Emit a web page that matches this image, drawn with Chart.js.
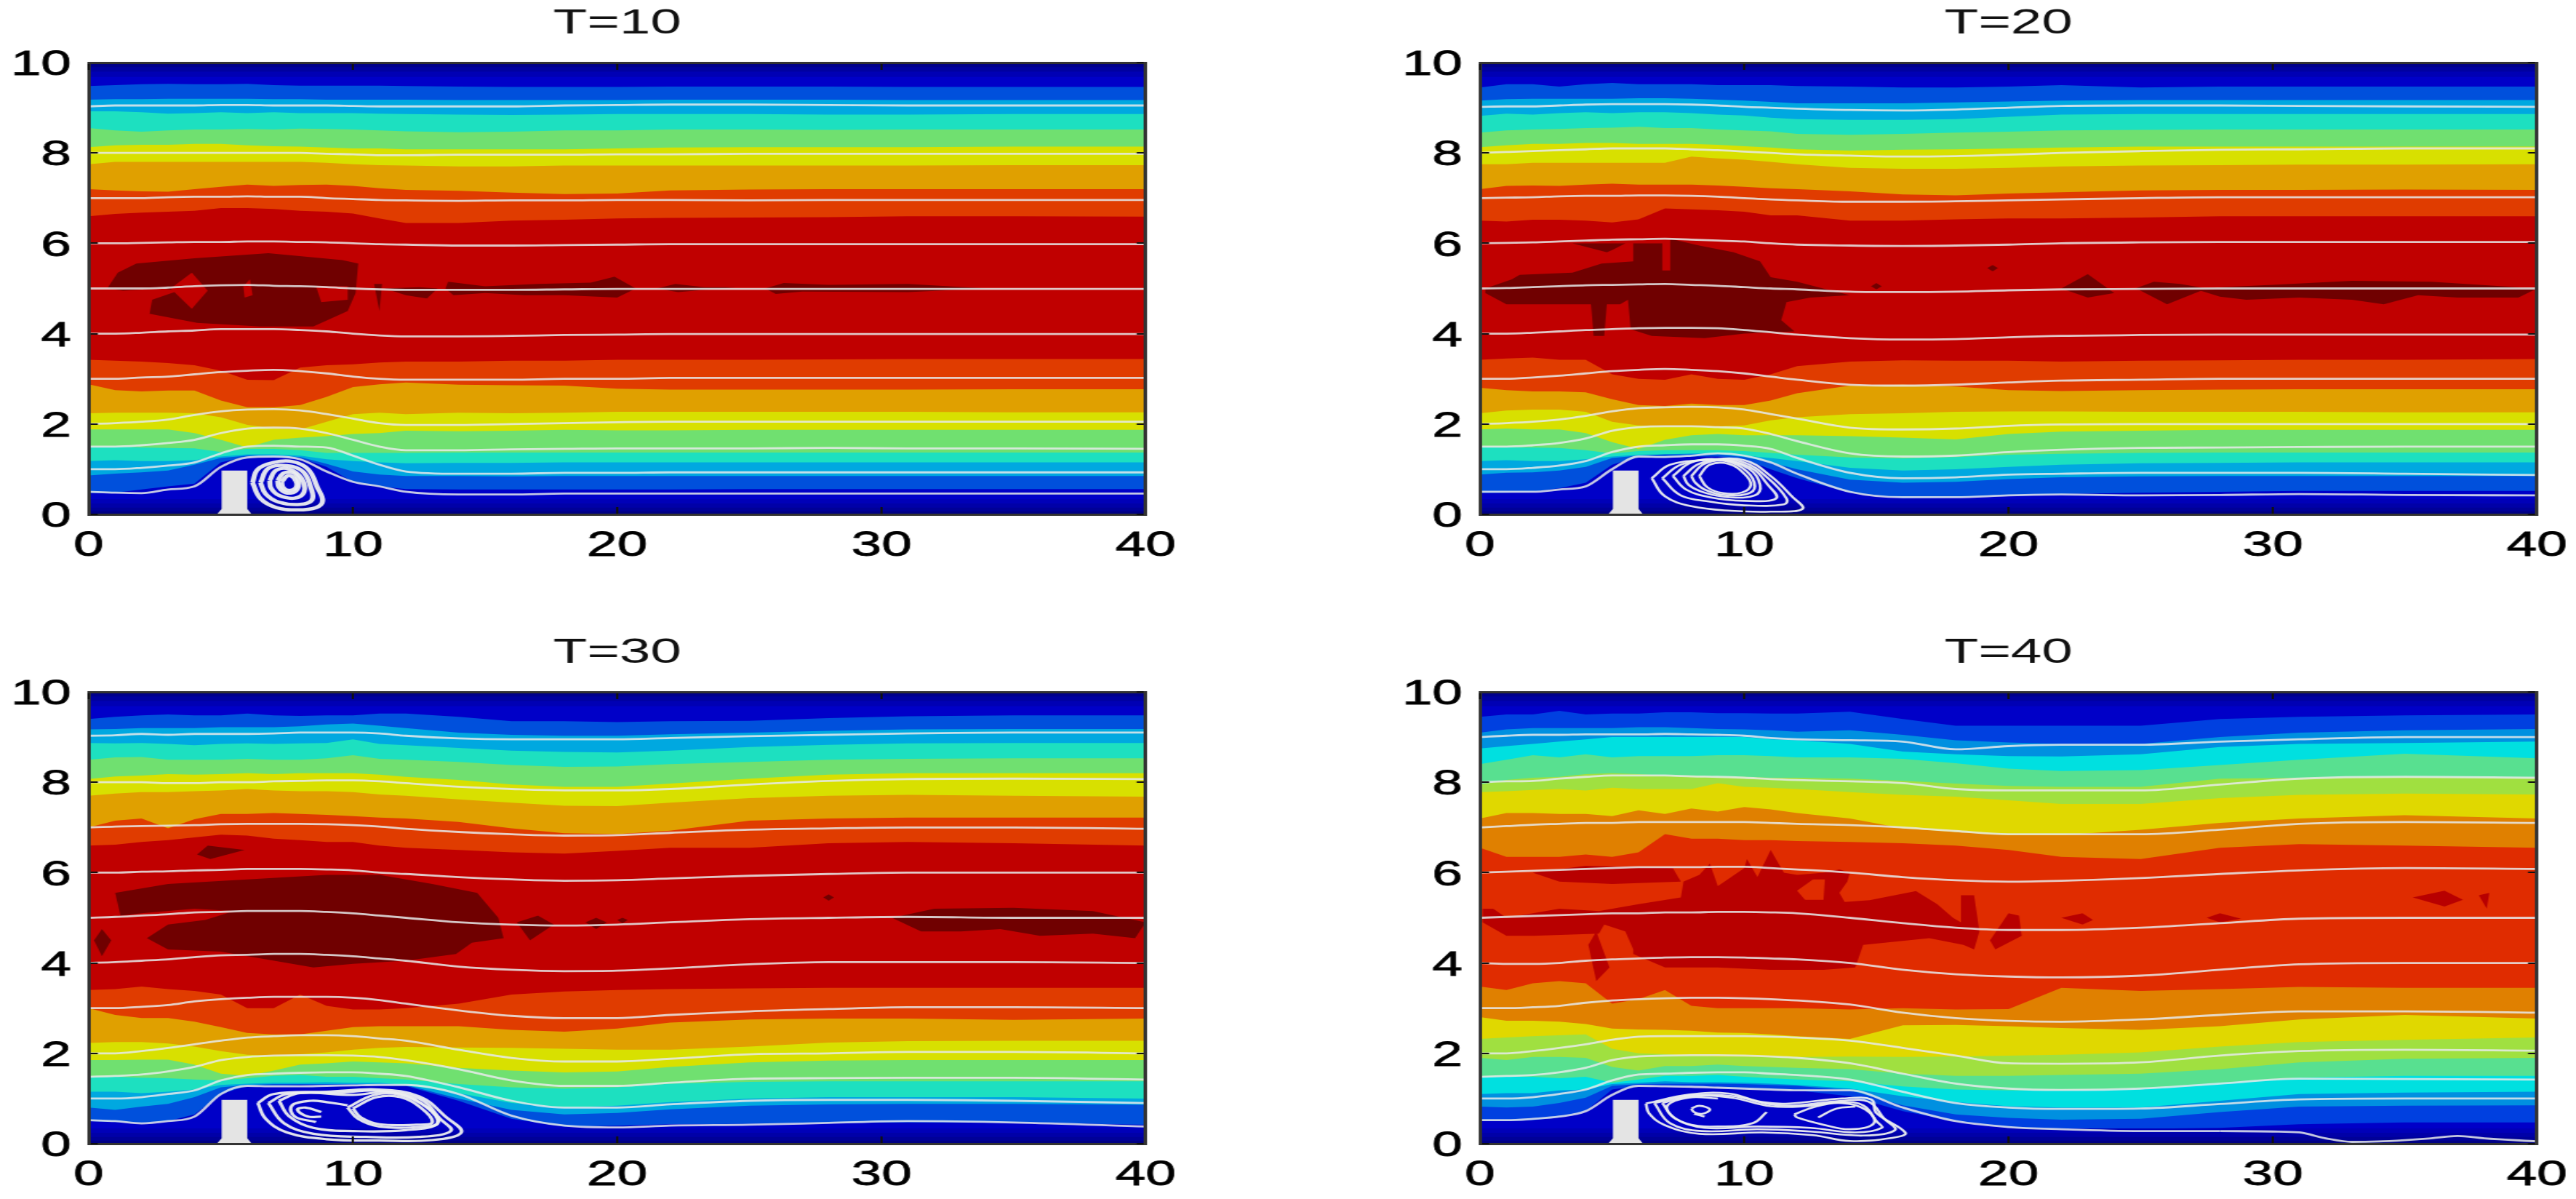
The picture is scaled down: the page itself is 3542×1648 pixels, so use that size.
<!DOCTYPE html>
<html>
<head>
<meta charset="utf-8">
<title>Flow past a cylinder</title>
<script src="https://cdn.jsdelivr.net/npm/chart.js@4"></script>
<style>
    html, body { margin: 0; width: 3542px; height: 1648px; background: #fff; overflow: hidden; }
    canvas { position: absolute; transform-origin: 0 0; transform: scaleX(1.56); }
    #t10 { left: 0; top: 0; }
    #t20 { left: 1913px; top: 0; }
    #t30 { left: 0; top: 865px; }
    #t40 { left: 1913px; top: 865px; }
</style>
</head>
<body>
<canvas id="t10" width="1088" height="780"></canvas>
<canvas id="t20" width="1088" height="780"></canvas>
<canvas id="t30" width="1088" height="780"></canvas>
<canvas id="t40" width="1088" height="780"></canvas>
<script>
const xTickValues = [0, 10, 20, 30, 40];
const yTickValues = [0, 2, 4, 6, 8, 10];
const gridX = [0,1,2,3,4,5,6,7,8,9,10,11,12,14,16,18,20,22,25,28,31,35,40];

// colour of the band under each contour, top of the channel to the bottom
const bandColors = ['#0050dc','#00a8e0','#1de0c0','#70e070','#d8e000','#e0a000','#e03c00','#c00000','#e03c00','#e0a000','#d8e000','#70e070','#1de0c0','#00a8e0','#0050dc','#0000c8'];
const bandColorsT40 = ['#0040e0','#0090e0','#00e0e0','#58e090','#a0e040','#e0d800','#e08000','#e02c00','#e08000','#e0d800','#a0e040','#58e090','#00e0e0','#0090e0','#0040e0','#0000c8'];
const coreColor = '#700000';
const coreColorT40 = '#b80000';
const topWallY = [10, 9.96, 9.9, 9.8, 9.68];
const topWallColors = ['#000078','#00008c','#0000a0','#0000b4','#0000c8'];
const bottomWallY = [0.34, 0.24, 0.15, 0.07];
const bottomWallColors = ['#0000b8','#0000a8','#000098','#000084'];

const cylinderOutline = [[5.03,0.97],[6.0,0.97],[6.0,0.12],[6.17,0],[4.85,0],[5.03,0.12]];

// contour lines over gridX, one row per contour
const contoursT10 = [
    [9.48,9.5,9.52,9.53,9.52,9.52,9.53,9.5,9.49,9.49,9.49,9.49,9.48,9.47,9.46,9.46,9.46,9.47,9.47,9.47,9.46,9.46,9.46],
    [9.18,9.19,9.19,9.2,9.2,9.2,9.2,9.19,9.19,9.18,9.18,9.18,9.18,9.17,9.17,9.17,9.17,9.18,9.18,9.18,9.17,9.17,9.17],
    [8.92,8.92,8.9,8.87,8.88,8.9,8.88,8.9,8.88,8.88,8.88,8.87,8.86,8.85,8.84,8.85,8.86,8.86,8.86,8.85,8.85,8.86,8.86],
    [8.55,8.5,8.47,8.5,8.52,8.52,8.53,8.52,8.54,8.53,8.52,8.5,8.48,8.46,8.47,8.5,8.5,8.52,8.52,8.51,8.52,8.52,8.52],
    [8.13,8.17,8.18,8.18,8.2,8.2,8.17,8.15,8.14,8.12,8.1,8.1,8.08,8.08,8.08,8.08,8.1,8.12,8.13,8.13,8.13,8.14,8.14],
    [7.75,7.8,7.8,7.8,7.8,7.8,7.8,7.8,7.8,7.78,7.75,7.73,7.72,7.7,7.7,7.72,7.72,7.72,7.72,7.72,7.72,7.73,7.73],
    [7.2,7.17,7.15,7.14,7.2,7.25,7.3,7.27,7.29,7.3,7.27,7.22,7.18,7.16,7.12,7.09,7.1,7.17,7.19,7.2,7.2,7.2,7.2],
    [6.6,6.65,6.68,6.7,6.72,6.78,6.78,6.76,6.72,6.7,6.66,6.55,6.45,6.45,6.5,6.52,6.55,6.56,6.57,6.58,6.6,6.6,6.59],
    [3.42,3.4,3.38,3.35,3.3,3.18,2.98,2.97,3.25,3.3,3.32,3.36,3.38,3.38,3.4,3.4,3.42,3.42,3.42,3.43,3.44,3.44,3.44],
    [2.88,2.75,2.72,2.74,2.74,2.52,2.37,2.37,2.42,2.6,2.82,2.88,2.92,2.87,2.86,2.85,2.78,2.76,2.76,2.76,2.76,2.77,2.77],
    [2.24,2.25,2.25,2.25,2.24,2.15,1.98,1.9,1.88,2.05,2.22,2.25,2.22,2.25,2.24,2.25,2.27,2.27,2.27,2.27,2.27,2.26,2.26],
    [1.88,1.88,1.88,1.88,1.8,1.65,1.48,1.65,1.7,1.73,1.78,1.8,1.85,1.84,1.85,1.87,1.86,1.86,1.87,1.87,1.87,1.87,1.87],
    [1.5,1.5,1.48,1.47,1.46,1.38,1.45,1.45,1.42,1.36,1.36,1.36,1.36,1.37,1.37,1.37,1.37,1.37,1.37,1.37,1.37,1.37,1.37],
    [1.18,1.2,1.18,1.18,1.2,1.28,1.33,1.33,1.3,1.22,1.18,1.15,1.13,1.14,1.14,1.15,1.15,1.15,1.15,1.15,1.15,1.15,1.15],
    [0.86,0.9,0.93,0.97,1.1,1.25,1.3,1.3,1.27,1.12,0.95,0.88,0.85,0.85,0.84,0.85,0.85,0.85,0.85,0.85,0.85,0.85,0.85],
    [0.47,0.48,0.55,0.62,0.68,1.15,1.28,1.26,1.25,1.05,0.72,0.62,0.56,0.55,0.55,0.55,0.55,0.55,0.56,0.56,0.56,0.56,0.56]
];
const contoursT20 = [
    [9.45,9.52,9.52,9.47,9.52,9.55,9.52,9.52,9.52,9.5,9.5,9.5,9.48,9.47,9.45,9.45,9.47,9.5,9.45,9.47,9.47,9.47,9.47],
    [9.16,9.19,9.2,9.2,9.2,9.2,9.21,9.21,9.2,9.18,9.16,9.13,9.1,9.1,9.1,9.12,9.14,9.16,9.17,9.17,9.17,9.17,9.17],
    [8.82,8.87,8.85,8.88,8.9,8.88,8.9,8.9,8.88,8.85,8.83,8.78,8.75,8.73,8.73,8.75,8.8,8.85,8.86,8.86,8.86,8.86,8.86],
    [8.45,8.5,8.52,8.53,8.55,8.56,8.58,8.55,8.55,8.52,8.5,8.48,8.42,8.4,8.42,8.45,8.47,8.5,8.51,8.52,8.52,8.52,8.52],
    [8.13,8.17,8.2,8.2,8.22,8.22,8.2,8.2,8.2,8.18,8.15,8.12,8.08,8.05,8.07,8.08,8.1,8.12,8.14,8.14,8.14,8.14,8.14],
    [7.75,7.75,7.78,7.78,7.78,7.78,7.78,7.78,7.92,7.88,7.85,7.8,7.75,7.67,7.65,7.65,7.67,7.7,7.72,7.73,7.74,7.74,7.75],
    [7.2,7.27,7.28,7.27,7.3,7.32,7.3,7.3,7.3,7.28,7.25,7.22,7.2,7.15,7.08,7.06,7.1,7.13,7.17,7.18,7.18,7.19,7.18],
    [6.5,6.48,6.52,6.52,6.5,6.46,6.53,6.77,6.75,6.73,6.7,6.62,6.62,6.5,6.5,6.53,6.55,6.55,6.57,6.6,6.6,6.6,6.6],
    [3.42,3.45,3.47,3.42,3.42,3.1,3.0,2.98,3.1,3.0,2.98,3.1,3.28,3.38,3.41,3.4,3.4,3.38,3.4,3.41,3.42,3.42,3.44],
    [2.8,2.75,2.72,2.72,2.7,2.55,2.42,2.4,2.45,2.42,2.42,2.52,2.68,2.85,2.87,2.83,2.75,2.73,2.75,2.76,2.77,2.77,2.77],
    [2.24,2.3,2.32,2.32,2.27,2.05,1.97,1.95,1.95,1.95,1.97,2.08,2.15,2.22,2.24,2.27,2.28,2.28,2.27,2.27,2.27,2.26,2.26],
    [1.88,1.9,1.88,1.88,1.8,1.6,1.45,1.65,1.75,1.78,1.75,1.75,1.75,1.73,1.7,1.66,1.78,1.83,1.85,1.87,1.87,1.87,1.87],
    [1.5,1.48,1.48,1.47,1.42,1.35,1.4,1.42,1.42,1.42,1.4,1.36,1.32,1.26,1.24,1.27,1.32,1.34,1.36,1.37,1.37,1.37,1.37],
    [1.18,1.2,1.18,1.18,1.22,1.28,1.32,1.33,1.35,1.35,1.3,1.25,1.18,1.03,0.97,1.0,1.05,1.1,1.13,1.14,1.15,1.15,1.15],
    [0.88,0.92,0.93,0.97,1.05,1.25,1.3,1.33,1.33,1.33,1.27,1.15,1.0,0.77,0.7,0.72,0.78,0.82,0.84,0.85,0.85,0.85,0.85],
    [0.47,0.48,0.5,0.58,0.7,1.1,1.28,1.25,1.28,1.28,1.22,1.0,0.8,0.48,0.36,0.37,0.42,0.45,0.48,0.5,0.52,0.52,0.52]
];
const contoursT30 = [
    [9.4,9.45,9.48,9.5,9.48,9.48,9.52,9.48,9.47,9.48,9.48,9.52,9.52,9.45,9.35,9.35,9.33,9.35,9.36,9.42,9.46,9.48,9.48],
    [9.17,9.18,9.2,9.2,9.2,9.22,9.22,9.22,9.24,9.28,9.3,9.25,9.2,9.1,9.05,9.03,9.03,9.06,9.1,9.14,9.17,9.18,9.18],
    [8.87,8.86,8.87,8.85,8.82,8.85,8.86,8.85,8.86,8.87,8.95,8.85,8.82,8.76,8.7,8.67,8.66,8.7,8.78,8.83,8.86,8.87,8.87],
    [8.5,8.55,8.56,8.5,8.5,8.5,8.52,8.5,8.5,8.53,8.6,8.52,8.5,8.45,8.38,8.34,8.35,8.4,8.45,8.5,8.52,8.53,8.53],
    [8.07,8.13,8.15,8.18,8.17,8.18,8.2,8.18,8.2,8.2,8.2,8.17,8.12,8.05,7.95,7.9,7.9,7.97,8.08,8.17,8.2,8.2,8.2],
    [7.7,7.75,7.78,7.78,7.8,7.82,7.85,7.82,7.8,7.8,7.78,7.73,7.7,7.62,7.55,7.48,7.47,7.55,7.65,7.7,7.72,7.7,7.68],
    [7.0,7.15,7.2,6.98,7.18,7.3,7.3,7.32,7.3,7.28,7.25,7.22,7.2,7.12,6.98,6.87,6.85,6.93,7.15,7.2,7.22,7.22,7.22],
    [6.6,6.62,6.68,6.72,6.78,6.84,6.82,6.75,6.72,6.68,6.68,6.6,6.55,6.5,6.45,6.42,6.48,6.55,6.55,6.65,6.68,6.65,6.6],
    [3.4,3.42,3.48,3.42,3.38,3.3,3.0,3.0,3.3,3.05,2.97,2.97,3.0,3.1,3.3,3.37,3.4,3.42,3.44,3.45,3.45,3.45,3.45],
    [3.0,2.85,2.78,2.78,2.7,2.58,2.45,2.42,2.42,2.5,2.58,2.6,2.6,2.6,2.52,2.48,2.55,2.68,2.75,2.77,2.77,2.74,2.77],
    [2.23,2.25,2.25,2.22,2.15,2.05,1.97,1.95,1.98,2.02,2.08,2.12,2.14,2.13,2.12,2.1,2.08,2.08,2.15,2.24,2.27,2.28,2.28],
    [1.85,1.85,1.86,1.86,1.75,1.55,1.5,1.62,1.75,1.78,1.82,1.8,1.78,1.68,1.62,1.58,1.6,1.7,1.8,1.84,1.85,1.85,1.85],
    [1.48,1.48,1.46,1.45,1.42,1.4,1.45,1.5,1.52,1.48,1.48,1.45,1.42,1.32,1.25,1.22,1.25,1.33,1.37,1.38,1.38,1.38,1.38],
    [1.15,1.15,1.12,1.15,1.2,1.3,1.33,1.35,1.35,1.36,1.35,1.35,1.3,1.12,0.9,0.8,0.84,0.92,1.0,1.03,1.03,1.03,1.0],
    [0.8,0.75,0.82,0.88,1.03,1.25,1.3,1.32,1.32,1.32,1.32,1.32,1.3,1.0,0.75,0.65,0.68,0.76,0.84,0.87,0.88,0.88,0.86],
    [0.5,0.48,0.46,0.5,0.65,1.1,1.28,1.28,1.3,1.3,1.3,1.3,1.28,0.95,0.55,0.38,0.4,0.43,0.44,0.46,0.47,0.47,0.42]
];
const contoursT40 = [
    [9.45,9.5,9.5,9.58,9.5,9.52,9.52,9.55,9.55,9.53,9.53,9.52,9.52,9.56,9.4,9.25,9.25,9.25,9.25,9.4,9.45,9.48,9.5],
    [9.1,9.17,9.2,9.2,9.2,9.2,9.22,9.22,9.2,9.18,9.17,9.15,9.12,9.15,9.05,8.93,8.88,8.85,8.85,9.0,9.1,9.15,9.18],
    [8.75,8.8,8.85,8.9,8.95,9.0,9.0,9.0,9.0,9.0,9.0,8.95,8.93,8.85,8.68,8.62,8.58,8.57,8.62,8.78,8.85,8.87,8.9],
    [8.4,8.5,8.6,8.55,8.62,8.55,8.58,8.58,8.58,8.6,8.6,8.58,8.55,8.55,8.52,8.42,8.3,8.25,8.27,8.38,8.5,8.63,8.53],
    [7.95,8.05,8.1,8.12,8.18,8.2,8.18,8.15,8.15,8.12,8.12,8.1,8.1,8.08,8.03,7.97,7.92,7.9,7.9,8.08,8.1,8.12,8.1],
    [7.78,7.8,7.83,7.85,7.82,7.88,7.85,7.85,7.85,7.98,7.9,7.88,7.85,7.78,7.72,7.68,7.6,7.52,7.52,7.65,7.72,7.75,7.73],
    [7.2,7.32,7.32,7.3,7.3,7.25,7.38,7.3,7.42,7.35,7.45,7.4,7.32,7.2,6.98,6.9,6.83,6.83,6.95,7.1,7.2,7.27,7.2],
    [6.55,6.35,6.35,6.35,6.4,6.35,6.45,6.85,6.75,6.75,6.72,6.72,6.7,6.68,6.65,6.6,6.5,6.35,6.3,6.55,6.63,6.6,6.55],
    [3.48,3.4,3.55,3.6,3.55,3.1,3.2,3.4,3.05,3.0,3.0,3.0,3.0,2.97,3.0,2.97,2.98,3.45,3.38,3.42,3.47,3.45,3.45],
    [2.8,2.72,2.72,2.7,2.65,2.55,2.53,2.52,2.5,2.46,2.45,2.42,2.38,2.32,2.62,2.63,2.6,2.56,2.52,2.6,2.75,2.85,2.77],
    [2.32,2.35,2.38,2.4,2.42,2.1,2.0,1.98,1.95,1.93,1.93,1.92,1.92,1.93,1.92,1.93,1.95,1.97,2.02,2.15,2.25,2.3,2.35],
    [1.9,1.85,1.92,1.92,1.9,1.7,1.62,1.72,1.72,1.75,1.72,1.7,1.68,1.65,1.55,1.5,1.5,1.52,1.55,1.65,1.8,1.88,1.9],
    [1.48,1.48,1.48,1.45,1.48,1.35,1.42,1.5,1.5,1.52,1.48,1.45,1.42,1.38,1.27,1.2,1.18,1.18,1.22,1.35,1.46,1.5,1.5],
    [1.1,1.12,1.12,1.18,1.2,1.32,1.35,1.38,1.36,1.36,1.35,1.33,1.3,1.22,1.05,0.92,0.83,0.8,0.8,0.95,1.1,1.13,1.15],
    [0.82,0.8,0.82,0.9,1.02,1.28,1.32,1.33,1.33,1.33,1.32,1.3,1.28,1.18,0.85,0.65,0.57,0.53,0.55,0.7,0.82,0.84,0.85],
    [0.5,0.5,0.52,0.58,0.72,1.2,1.28,1.27,1.26,1.24,1.22,1.2,1.18,1.05,0.72,0.5,0.36,0.33,0.33,0.35,0.43,0.47,0.47]
];

// streamlines over gridX
const streamsT10 = [
    [9.03,9.05,9.05,9.05,9.05,9.06,9.06,9.05,9.05,9.05,9.04,9.03,9.03,9.03,9.03,9.05,9.06,9.07,9.07,9.06,9.05,9.05,9.05],
    [8,8,8,8,8,8,8,8,8,7.98,7.97,7.95,7.95,7.96,7.96,7.96,7.97,7.97,7.98,7.98,7.98,7.98,7.98],
    [7,7,7,7.02,7.03,7.03,7.04,7.03,7.03,7,6.98,6.96,6.95,6.94,6.95,6.95,6.96,6.96,6.95,6.96,6.96,6.96,6.96],
    [6,6,6.01,6.02,6.03,6.03,6.04,6.04,6.03,6.02,6,5.98,5.97,5.95,5.95,5.96,5.97,5.98,5.98,5.98,5.98,5.98,5.98],
    [5,5,5,5.02,5.05,5.07,5.08,5.06,5.05,5.03,5,4.98,4.97,4.97,4.97,4.98,4.99,4.99,4.99,4.99,4.99,4.99,4.99],
    [4,4,4.02,4.05,4.07,4.1,4.1,4.1,4.08,4.05,4,3.96,3.94,3.94,3.95,3.97,3.98,3.99,3.99,3.99,3.99,3.99,3.99],
    [3,3,3.03,3.05,3.1,3.15,3.18,3.2,3.17,3.12,3.05,3,2.98,2.98,2.98,3,3,3.02,3.02,3.02,3.02,3.02,3.02],
    [2,2.02,2.05,2.1,2.2,2.28,2.32,2.33,2.3,2.22,2.12,2.02,1.98,1.98,2,2.02,2.04,2.05,2.05,2.05,2.05,2.05,2.05],
    [1.5,1.5,1.53,1.58,1.65,1.8,1.9,1.92,1.9,1.8,1.65,1.5,1.42,1.42,1.44,1.45,1.46,1.46,1.46,1.47,1.46,1.46,1.45],
    [1,1,1.03,1.08,1.15,1.35,1.5,1.52,1.5,1.48,1.3,1.1,0.95,0.9,0.9,0.92,0.92,0.93,0.93,0.93,0.93,0.93,0.93],
    [0.5,0.48,0.47,0.55,0.62,1.05,1.26,1.28,1.22,0.95,0.72,0.62,0.5,0.44,0.44,0.46,0.46,0.46,0.46,0.46,0.46,0.46,0.46]
];
const streamsT20 = [
    [9.02,9.03,9.03,9.05,9.07,9.08,9.08,9.08,9.07,9.05,9.02,9,8.98,8.95,8.94,8.96,9,9.04,9.05,9.05,9.04,9.03,9.02],
    [8,8.02,8.04,8.06,8.08,8.1,8.1,8.1,8.08,8.06,8.03,8,7.97,7.94,7.92,7.93,7.96,8,8.04,8.07,8.08,8.1,8.1],
    [7,7.01,7.02,7.04,7.05,7.05,7.06,7.06,7.05,7.03,7,6.97,6.95,6.92,6.92,6.93,6.95,6.97,7,7.02,7.02,7.02,7.02],
    [6,6.01,6.02,6.04,6.06,6.08,6.09,6.1,6.08,6.06,6.04,6,5.97,5.95,5.94,5.95,5.97,6,6.02,6.03,6.03,6.03,6.03],
    [5,5.01,5.03,5.05,5.07,5.08,5.09,5.1,5.08,5.06,5.03,5,4.98,4.93,4.92,4.93,4.96,4.98,4.99,5,5,5,5],
    [4,4,4.02,4.05,4.08,4.1,4.12,4.13,4.13,4.12,4.08,4.03,3.98,3.9,3.87,3.88,3.92,3.95,3.97,3.98,3.98,3.98,3.98],
    [3,3,3.03,3.07,3.12,3.17,3.2,3.22,3.2,3.17,3.12,3.05,2.98,2.87,2.85,2.87,2.92,2.96,2.98,3,3,3,3],
    [2,2.02,2.05,2.1,2.18,2.28,2.35,2.37,2.38,2.37,2.32,2.22,2.12,1.92,1.88,1.9,1.96,1.99,2,2,2,2,2],
    [1.5,1.5,1.53,1.58,1.68,1.85,1.93,1.95,1.95,1.93,1.9,1.78,1.62,1.35,1.28,1.3,1.38,1.43,1.47,1.48,1.49,1.5,1.5],
    [1,1,1.03,1.08,1.18,1.38,1.5,1.53,1.55,1.55,1.52,1.45,1.25,0.92,0.8,0.82,0.88,0.9,0.92,0.92,0.92,0.9,0.87],
    [0.5,0.5,0.5,0.55,0.62,1,1.28,1.27,1.3,1.35,1.3,1.15,0.9,0.5,0.38,0.38,0.42,0.44,0.42,0.43,0.45,0.43,0.42]
];
const streamsT30 = [
    [9.03,9.04,9.07,9.05,9.07,9.07,9.07,9.08,9.1,9.1,9.1,9.08,9.03,8.97,8.95,8.95,8.95,8.98,9.02,9.05,9.08,9.1,9.1],
    [8,8,8,7.98,7.98,8,8,8.02,8.03,8.04,8.04,8.02,7.98,7.9,7.85,7.82,7.82,7.85,7.95,8.03,8.07,8.08,8.07],
    [7,7.02,7.03,7.04,7.05,7.07,7.08,7.08,7.08,7.07,7.05,7.02,6.97,6.9,6.85,6.82,6.83,6.88,6.95,6.98,7,7,6.97],
    [6,6,6.02,6.03,6.05,6.06,6.08,6.08,6.08,6.07,6.05,6,5.97,5.9,5.85,5.82,5.83,5.87,5.93,5.97,6,6,6],
    [5,5.02,5.05,5.08,5.12,5.13,5.15,5.15,5.15,5.13,5.1,5.05,5,4.9,4.85,4.83,4.85,4.9,4.97,5,5.02,5,5],
    [4,4.02,4.05,4.08,4.13,4.17,4.18,4.2,4.2,4.18,4.15,4.1,4.05,3.92,3.85,3.82,3.83,3.88,3.97,4.02,4.02,4.02,4],
    [3,3,3.03,3.07,3.15,3.2,3.23,3.25,3.25,3.25,3.23,3.18,3.1,2.95,2.83,2.78,2.78,2.85,2.93,2.98,3.02,3.02,3],
    [2,2,2.05,2.12,2.2,2.28,2.35,2.38,2.4,2.4,2.38,2.33,2.28,2.08,1.9,1.82,1.82,1.88,1.98,2,2.03,2.03,2],
    [1.48,1.5,1.53,1.6,1.7,1.85,1.92,1.95,1.96,1.96,1.95,1.92,1.85,1.65,1.4,1.28,1.28,1.35,1.44,1.45,1.46,1.46,1.42],
    [1,1,1.03,1.1,1.18,1.4,1.52,1.55,1.57,1.58,1.58,1.55,1.5,1.25,0.95,0.8,0.8,0.87,0.95,0.97,0.97,0.95,0.9],
    [0.52,0.5,0.45,0.5,0.6,1.1,1.28,1.27,1.27,1.28,1.29,1.3,1.3,1.1,0.62,0.4,0.36,0.4,0.42,0.46,0.5,0.47,0.38]
];
const streamsT40 = [
    [9,9.03,9.05,9.05,9.06,9.06,9.06,9.07,9.06,9.05,9.03,8.98,8.95,8.93,8.9,8.73,8.8,8.83,8.83,8.9,8.95,9,9],
    [8,8.02,8.03,8.08,8.12,8.15,8.15,8.15,8.13,8.12,8.1,8.07,8.05,8.02,7.98,7.85,7.82,7.82,7.82,7.95,8.08,8.12,8.1],
    [7,7.03,7.06,7.08,7.1,7.1,7.12,7.12,7.12,7.12,7.12,7.1,7.08,7.05,7,6.92,6.85,6.85,6.85,6.95,7.08,7.12,7.1],
    [6,6.02,6.04,6.06,6.08,6.1,6.12,6.12,6.12,6.13,6.13,6.1,6.07,6,5.9,5.83,5.8,5.82,5.88,5.97,6.05,6.1,6.08],
    [5,5.02,5.04,5.06,5.08,5.1,5.1,5.12,5.12,5.13,5.13,5.12,5.1,5,4.88,4.78,4.73,4.73,4.78,4.88,4.98,5,5],
    [4,3.98,3.98,4,4.05,4.08,4.1,4.12,4.13,4.13,4.12,4.1,4.08,4,3.85,3.75,3.7,3.68,3.72,3.85,3.97,4,4],
    [3,3,3.02,3.05,3.12,3.17,3.2,3.22,3.23,3.23,3.22,3.2,3.17,3.08,2.9,2.78,2.72,2.7,2.75,2.85,2.93,2.93,2.9],
    [2,2,2.05,2.12,2.2,2.3,2.37,2.38,2.38,2.38,2.38,2.37,2.35,2.28,2.12,1.95,1.78,1.77,1.8,1.95,2.05,2.08,2.06],
    [1.48,1.5,1.52,1.58,1.68,1.85,1.93,1.95,1.96,1.96,1.95,1.93,1.9,1.78,1.55,1.33,1.22,1.19,1.22,1.33,1.44,1.43,1.42],
    [1,1,1.03,1.1,1.2,1.4,1.53,1.55,1.57,1.58,1.58,1.55,1.52,1.42,1.15,0.9,0.8,0.77,0.78,0.88,0.98,1,1],
    [0.52,0.52,0.55,0.6,0.72,1.08,1.28,1.27,1.26,1.24,1.22,1.2,1.18,1.18,0.8,0.5,0.37,0.32,0.28,0.28,null,null,null]
];
const wakeT40X = [28,30,31,32,33,34,35,36,37,38,40];
const wakeT40Y = [0.28,0.27,0.25,0.12,0.04,0.05,0.08,0.12,0.17,0.12,0.05];

// dark core patches, as outlines
const coresT10 = [
    [[0.7,5],[1.1,5.35],[1.8,5.55],[4,5.67],[6.8,5.78],[9.6,5.63],[10.2,5.55],[10.1,4.9],[9.8,4.5],[8.5,4.16],[6.5,4.16],[4.1,4.24],[2.3,4.44],[2.4,4.75],[3.4,4.95],[2.8,5],[1.3,4.95]],
    [[10.8,5.1],[11,4.5],[11.1,5.1]],
    [[11.2,5],[12,4.85],[12.8,4.78],[13.2,5],[12.5,5.03]],
    [[13.5,5],[13.6,5.15],[15,5.05],[17,5.1],[19,5.13],[19.9,5.26],[20.7,5],[20,4.8],[18,4.85],[16.5,4.85],[15,4.9],[13.8,4.85]],
    [[21.5,5],[22.2,5.1],[23.3,5.03],[24.5,5.03],[22.3,4.92]],
    [[25.6,5],[26.3,5.12],[28,5.08],[31,5.1],[34,5],[31,4.92],[27,4.93],[26,4.88]]
];
const holesT10 = [
    [[3.1,5],[3.9,5.35],[4.5,4.95],[3.9,4.55]],
    [[5.85,5.05],[6.1,5.2],[6.2,4.85],[5.9,4.8]],
    [[8.6,5.05],[9.8,5.05],[9.8,4.75],[8.8,4.7]]
];
const coresT20 = [
    [[0.2,5],[1.2,5.2],[1.5,5.3],[3.5,5.35],[4.6,5.55],[5.8,5.6],[5.8,6],[6.9,6],[6.9,5.4],[7.2,5.4],[7.2,6.1],[8.3,5.95],[9.6,5.8],[10.6,5.6],[11,5.25],[12,5.15],[13.3,4.95],[14,4.85],[12.5,4.8],[11.6,4.7],[11.4,4.3],[11.9,4.05],[10,4],[8.5,3.9],[6.5,3.95],[5.7,4.1],[5.6,4.75],[5.3,4.65],[4.8,4.65],[4.7,3.95],[4.3,3.95],[4.2,4.65],[2,4.65],[1,4.65],[0.2,4.9]],
    [[3.5,6],[4.8,5.8],[5,5.85],[5.5,6]],
    [[14.8,5.05],[15,5.12],[15.2,5.05],[15,4.98]],
    [[19.2,5.45],[19.4,5.52],[19.6,5.45],[19.4,5.38]],
    [[22,5],[23,5.32],[24,4.9],[23,4.8]],
    [[24.8,5],[25.5,5.15],[26.5,5.1],[27.5,5],[26,4.65],[25,4.95]],
    [[27,5],[30,5.08],[33,5.17],[36,5.15],[40,5],[39.3,4.8],[37,4.8],[35.5,4.85],[34.2,4.65],[33,4.75],[31,4.8],[29,4.75],[28,4.82]]
];
const coresT30 = [
    [[1,5.55],[3,5.75],[6,5.85],[9,5.95],[11,5.95],[13,5.75],[14.7,5.55],[15.5,5],[15.7,4.55],[14.5,4.45],[13.9,4.2],[12,4.05],[10,3.98],[8.5,3.9],[7.5,4],[5,4.25],[3,4.3],[2.2,4.55],[3,4.85],[4.4,4.95],[5.5,5.15],[4,5.2],[2,5.1],[1.2,5.05]],
    [[0.2,4.5],[0.5,4.75],[0.85,4.5],[0.5,4.15]],
    [[4.1,6.4],[4.5,6.6],[5.9,6.5],[4.6,6.3]],
    [[16.2,4.9],[17,5.05],[17.6,4.85],[16.7,4.5]],
    [[18.8,4.9],[19.2,5],[19.6,4.9],[19.2,4.75]],
    [[20,4.95],[20.2,5],[20.4,4.95],[20.2,4.88]],
    [[27.8,5.45],[28,5.52],[28.2,5.45],[28,5.38]],
    [[30.4,5],[32,5.2],[35,5.22],[38,5.15],[40,4.9],[39.6,4.55],[38,4.65],[36,4.6],[34.5,4.75],[33,4.7],[31.5,4.7]]
];
const coresT40 = [
    [[0.1,5.2],[0.5,5.2],[1,5],[3,5.2],[4.5,5.15],[6,5.3],[7.6,5.45],[7.7,5.8],[8.3,5.95],[8.7,6.2],[9,5.7],[10,6.1],[10.1,6.3],[10.5,5.9],[11,6.5],[11.5,6],[12,5.95],[13,6],[13.6,6.07],[14,6],[13.9,5.8],[13.6,5.55],[13.8,5.35],[14.75,5.39],[16.5,5.59],[17.3,5.3],[17.9,5],[18.2,4.9],[18.2,5.5],[18.7,5.5],[18.9,4.7],[18.7,4.3],[18.3,4.4],[17,4.55],[14.5,4.4],[14.2,3.9],[13,3.85],[11,3.85],[9,3.9],[7,3.9],[5.8,4.2],[5.8,4.3],[5.5,4.7],[4.7,4.85],[4.5,4.65],[2,4.6],[1,4.6],[0.1,4.9]],
    [[2,6],[4,6.15],[7.3,6.1],[7.6,5.8],[5,5.75],[3,5.8]],
    [[4.1,4.4],[4.4,3.6],[4.9,3.9],[4.4,4.7]],
    [[19.3,4.5],[20,5.1],[20.4,5.05],[20.5,4.6],[19.5,4.3]],
    [[22,5],[22.8,5.1],[23.2,4.95],[22.8,4.85]],
    [[27.5,5],[28,5.1],[28.8,4.98],[28,4.9]],
    [[35.3,5.45],[36.5,5.6],[37.2,5.4],[36.5,5.25]],
    [[37.8,5.5],[38.2,5.55],[38.1,5.2]]
];
const holesT40 = [
    [[12,5.6],[12.6,5.85],[13.05,5.85],[13,5.4],[12.3,5.4]]
];

// recirculation behind the cylinder
const loopsT10 = [
    [[6.2,0.7],[6.4,1.0],[7.0,1.15],[7.7,1.17],[8.3,1.0],[8.65,0.6],[8.85,0.3],[8.6,0.15],[7.9,0.1],[7.1,0.15],[6.5,0.35]],
    [[6.5,0.7],[6.8,1.02],[7.5,1.08],[8.1,0.95],[8.4,0.6],[8.45,0.32],[8,0.22],[7.2,0.27],[6.7,0.45]],
    [[6.85,0.75],[7.1,0.98],[7.6,1.0],[8.05,0.8],[8.15,0.5],[7.8,0.36],[7.2,0.42],[6.9,0.58]],
    [[7.15,0.75],[7.4,0.92],[7.8,0.9],[7.95,0.68],[7.8,0.5],[7.45,0.48],[7.2,0.6]],
    [[7.3,0.72],[7.55,0.86],[7.8,0.78],[7.85,0.6],[7.55,0.53],[7.35,0.6]]
];
const loopsT20 = [
    [[6.5,0.8],[7.2,1.1],[8.5,1.2],[10,1.2],[11,0.85],[11.8,0.4],[12.2,0.12],[11,0.06],[9.5,0.08],[8,0.18],[7,0.4]],
    [[6.9,0.8],[7.6,1.1],[8.8,1.22],[10,1.15],[10.9,0.8],[11.6,0.35],[11.5,0.22],[10,0.2],[8.7,0.28],[7.6,0.42]],
    [[7.3,0.85],[8,1.15],[9,1.22],[10.2,1.05],[10.9,0.65],[11.2,0.35],[10,0.3],[8.7,0.38],[7.8,0.55]],
    [[7.7,0.85],[8.3,1.12],[9.2,1.2],[10.2,1],[10.6,0.65],[10.4,0.42],[9.4,0.38],[8.5,0.48],[7.9,0.65]],
    [[8,0.85],[8.5,1.12],[9.3,1.18],[10.1,0.95],[10.4,0.62],[10.1,0.45],[9.2,0.43],[8.5,0.55],[8.15,0.7]],
    [[8.3,0.85],[8.7,1.1],[9.4,1.12],[10,0.9],[10.25,0.65],[9.9,0.48],[9.2,0.47],[8.6,0.6]]
];
const loopsT30 = [
    [[6.4,0.9],[7,1.1],[9,1.15],[11,1.2],[12.5,1.05],[13.5,0.6],[14.1,0.25],[13,0.08],[11,0.07],[9,0.1],[7.5,0.25],[6.7,0.55]],
    [[6.8,0.9],[7.5,1.1],[9.5,1.13],[11,1.17],[12.5,1],[13.3,0.55],[13.7,0.28],[12.5,0.15],[10.5,0.15],[8.5,0.22],[7.4,0.45]],
    [[7.2,0.95],[8,1.12],[10,1.08],[11.5,1.14],[12.7,0.85],[13.2,0.45],[12,0.3],[10,0.28],[8.5,0.35],[7.6,0.6]],
    [[9.8,0.8],[10.8,1.08],[11.8,1.08],[12.8,0.8],[13.2,0.45],[12.5,0.37],[11,0.38],[10.2,0.55]],
    [[10,0.78],[10.9,1.03],[11.8,1.03],[12.6,0.78],[13,0.47],[12.4,0.42],[11,0.43],[10.3,0.58]]
];
const arcsT30 = [
    [[8.8,0.7],[8.2,0.8],[7.9,0.75],[8.3,0.6],[8.8,0.6]],
    [[9.8,0.85],[9,0.92],[8.4,0.95],[7.7,0.85],[7.8,0.6],[8.6,0.48]]
];
const loopsT40 = [
    [[6.28,0.89],[7.93,1.09],[9.4,1.11],[10.7,0.92],[11.7,0.89],[13.7,1],[14.8,0.98],[15,0.68],[16.1,0.24],[15.6,0.13],[14,0.06],[12.6,0.19],[10.7,0.25],[8.3,0.22],[7,0.41],[6.4,0.67]],
    [[6.6,0.9],[8,1.07],[9.5,1.06],[11,0.87],[12,0.85],[13.7,0.95],[14.7,0.93],[15.3,0.55],[15.7,0.3],[14.5,0.18],[12.5,0.27],[10.5,0.32],[8.4,0.28],[7.2,0.45]],
    [[6.9,0.9],[8,1.05],[9.5,1.02],[11,0.83],[12.3,0.83],[13.7,0.92],[14.5,0.85],[15,0.5],[15.2,0.35],[14.2,0.25],[12.5,0.35],[10.5,0.38],[8.5,0.35],[7.4,0.55]],
    [[11.9,0.65],[12.7,0.82],[13.7,0.9],[14.6,0.75],[14.9,0.45],[14,0.32],[13,0.42],[12,0.58]],
    [[8,0.78],[8.3,0.84],[8.7,0.76],[8.4,0.66],[8.1,0.7]]
];
const arcsT40 = [
    [[10.85,0.7],[10.3,0.45],[9,0.38],[8,0.42],[7.3,0.6],[7.1,0.85],[7.9,1.02],[9,1]],
    [[12.8,0.58],[13.5,0.78],[14.2,0.82]],
    [[8.1,0.66],[8.5,0.6]]
];

function toPoints(xs, ys) {
    return xs.map((x, i) => ({ x: x, y: ys[i] }));
}

function pairsToPoints(pairs) {
    return pairs.map(p => ({ x: p[0], y: p[1] }));
}

// every band is painted from its upper edge down to the axis, the next one goes on top
function bandDataset(points, color) {
    return { data: points, fill: 'start', backgroundColor: color, borderWidth: 0, pointRadius: 0 };
}

function patchDataset(pairs, color) {
    return { data: pairsToPoints(pairs), fill: 'shape', backgroundColor: color, borderWidth: 0, pointRadius: 0 };
}

function streamDataset(points) {
    return {
        data: points, fill: false, borderColor: 'rgba(230,234,234,0.85)', borderWidth: 2.8,
        pointRadius: 0, cubicInterpolationMode: 'monotone'
    };
}

function curveDataset(pairs, closed, width) {
    const points = pairsToPoints(closed ? pairs.concat([pairs[0]]) : pairs);
    return { data: points, fill: false, borderColor: 'rgba(236,238,240,0.95)', borderWidth: width, pointRadius: 0, tension: 0.4 };
}

function flatLine(y) {
    return [{ x: 0, y: y }, { x: 40, y: y }];
}

function buildDatasets(panel) {
    const sets = [];
    topWallY.forEach((y, i) => sets.push(bandDataset(flatLine(y), topWallColors[i])));
    panel.contours.forEach((row, i) => sets.push(bandDataset(toPoints(gridX, row), panel.colors[i])));
    bottomWallY.forEach((y, i) => sets.push(bandDataset(flatLine(y), bottomWallColors[i])));
    panel.cores.forEach(c => sets.push(patchDataset(c, panel.coreColor)));
    (panel.holes || []).forEach(h => sets.push(patchDataset(h, panel.colors[7])));
    panel.streams.forEach(row => sets.push(streamDataset(toPoints(gridX, row))));
    (panel.tail ? [panel.tail] : []).forEach(t => sets.push(streamDataset(t)));
    panel.loops.forEach(l => sets.push(curveDataset(l, true, panel.loopWidth)));
    (panel.arcs || []).forEach(a => sets.push(curveDataset(a, false, panel.loopWidth)));
    sets.push(patchDataset(cylinderOutline, '#e4e4e4'));
    // Chart.js draws the first dataset last
    return sets.reverse();
}

function axisBase(values, tickLength, extra) {
    return Object.assign({
        type: 'linear',
        grid: { drawOnChartArea: false, tickLength: tickLength, color: '#111', lineWidth: 2, z: 1 },
        border: { color: '#333', width: 3, z: 1 },
        afterBuildTicks: axis => { axis.ticks = values.map(v => ({ value: v })); }
    }, extra);
}

const tickFont = { family: 'Liberation Sans', size: 48 };

function drawPanel(panel) {
    new Chart(document.getElementById(panel.id), {
        type: 'line',
        data: { datasets: buildDatasets(panel) },
        options: {
            responsive: false,
            animation: false,
            plugins: {
                legend: { display: false },
                tooltip: { enabled: false },
                title: {
                    display: true,
                    text: panel.title,
                    color: '#111',
                    font: { family: 'Liberation Sans', size: 49, weight: 'normal', lineHeight: 1 },
                    padding: { top: 7.5, bottom: 29.5 }
                }
            },
            scales: {
                x: axisBase(xTickValues, -10, {
                    position: 'bottom', min: 0, max: 40,
                    ticks: { color: '#000', padding: 25, maxRotation: 0, autoSkip: false, z: 1, font: tickFont, textStrokeColor: '#000', textStrokeWidth: 0.8 },
                    afterFit: s => { s.height = 73; }
                }),
                y: axisBase(yTickValues, -8, {
                    position: 'left', min: 0, max: 10,
                    ticks: { color: '#000', padding: 23.4, labelOffset: 4, autoSkip: false, z: 1, font: tickFont, textStrokeColor: '#000', textStrokeWidth: 0.8 },
                    afterFit: s => { s.width = 78.2; }
                }),
                x2: axisBase(xTickValues, -10, {
                    position: 'top', min: 0, max: 40,
                    ticks: { display: false },
                    afterFit: s => { s.height = 0; }
                }),
                y2: axisBase(yTickValues, -8, {
                    position: 'right', min: 0, max: 10,
                    ticks: { display: false },
                    afterFit: s => { s.width = 78.2; }
                })
            }
        }
    });
}

drawPanel({ id: 't10', title: 'T=10', contours: contoursT10, colors: bandColors, coreColor: coreColor, cores: coresT10, holes: holesT10, streams: streamsT10, loops: loopsT10, loopWidth: 4.5 });
drawPanel({ id: 't20', title: 'T=20', contours: contoursT20, colors: bandColors, coreColor: coreColor, cores: coresT20, streams: streamsT20, loops: loopsT20, loopWidth: 2.6 });
drawPanel({ id: 't30', title: 'T=30', contours: contoursT30, colors: bandColors, coreColor: coreColor, cores: coresT30, streams: streamsT30, loops: loopsT30, arcs: arcsT30, loopWidth: 3.2 });
drawPanel({ id: 't40', title: 'T=40', contours: contoursT40, colors: bandColorsT40, coreColor: coreColorT40, cores: coresT40, holes: holesT40, streams: streamsT40, tail: toPoints(wakeT40X, wakeT40Y), loops: loopsT40, arcs: arcsT40, loopWidth: 2.6 });
</script>
</body>
</html>
